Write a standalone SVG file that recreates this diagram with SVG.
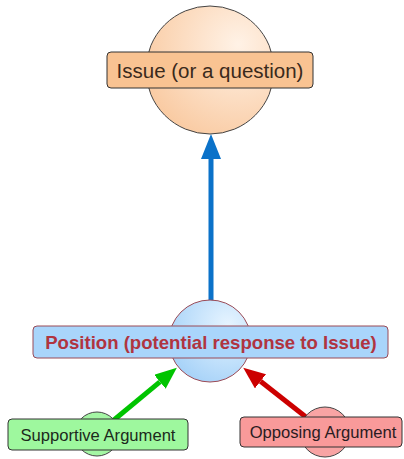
<svg xmlns="http://www.w3.org/2000/svg" width="404" height="459" viewBox="0 0 404 459">
<defs>
<radialGradient id="gIssue" cx="0.72" cy="0.3" r="0.85">
<stop offset="0" stop-color="#fff2e6"/>
<stop offset="1" stop-color="#f9c89e"/>
</radialGradient>
<radialGradient id="gPos" cx="0.72" cy="0.3" r="0.8">
<stop offset="0" stop-color="#e6f4ff"/>
<stop offset="1" stop-color="#a6d2f8"/>
</radialGradient>
<marker id="mBlue" markerUnits="userSpaceOnUse" markerWidth="26" markerHeight="22" refX="0" refY="10" orient="auto">
<path d="M0,0 L25,10 L0,20 z" fill="#0b72c9"/>
</marker>
<marker id="mGreen" markerUnits="userSpaceOnUse" markerWidth="24" markerHeight="20" refX="0" refY="9" orient="auto">
<path d="M0,0 L22,9 L0,18 z" fill="#00c400"/>
</marker>
<marker id="mRed" markerUnits="userSpaceOnUse" markerWidth="24" markerHeight="20" refX="0" refY="9" orient="auto">
<path d="M0,0 L22,9 L0,18 z" fill="#cc0000"/>
</marker>
<style>
.lbl{font-family:"Liberation Sans",Arial,sans-serif;text-anchor:middle}
.box{stroke:#333;stroke-width:1}
.circ{stroke:#444;stroke-width:1}
.conn{fill:none;stroke-width:5}
</style>
</defs>
<g id="connectors">
<line class="conn" x1="211" y1="341" x2="211" y2="159" stroke="#0b72c9" marker-end="url(#mBlue)"/>
<line class="conn" x1="97" y1="434" x2="159.9" y2="381.8" stroke="#00c400" marker-end="url(#mGreen)"/>
<line class="conn" x1="325" y1="432" x2="260.5" y2="381.3" stroke="#cc0000" marker-end="url(#mRed)"/>
</g>
<g id="issue">
<circle class="circ" cx="210" cy="70" r="64" fill="url(#gIssue)"/>
<rect class="box" x="107" y="52" width="206" height="36" rx="4" fill="#f9c392"/>
<text class="lbl" x="210" y="77.5" font-size="20.5" fill="#3a2a1c">Issue (or a question)</text>
</g>
<g id="position">
<circle cx="210" cy="341" r="41" fill="url(#gPos)" stroke="#9a4a56" stroke-width="1"/>
<rect x="33" y="326" width="355" height="32" rx="4" fill="#a9d5fb" stroke="#9a4a56" stroke-width="1"/>
<text class="lbl" x="211" y="348.5" font-size="18.6" font-weight="bold" fill="#b0343f">Position (potential response to Issue)</text>
</g>
<g id="supportive">
<circle class="circ" cx="97" cy="434" r="22" fill="#a4f6a4"/>
<rect class="box" x="8" y="419" width="180" height="31" rx="4" fill="#9ef89e"/>
<text class="lbl" x="98" y="440.5" font-size="16.6" fill="#1c2a1c">Supportive Argument</text>
</g>
<g id="opposing">
<circle class="circ" cx="325" cy="432" r="25" fill="#f8a4a4"/>
<rect class="box" x="240" y="417" width="162" height="30" rx="4" fill="#f99a9a"/>
<text class="lbl" x="323" y="438" font-size="16.6" fill="#2a1c22">Opposing Argument</text>
</g>
</svg>
